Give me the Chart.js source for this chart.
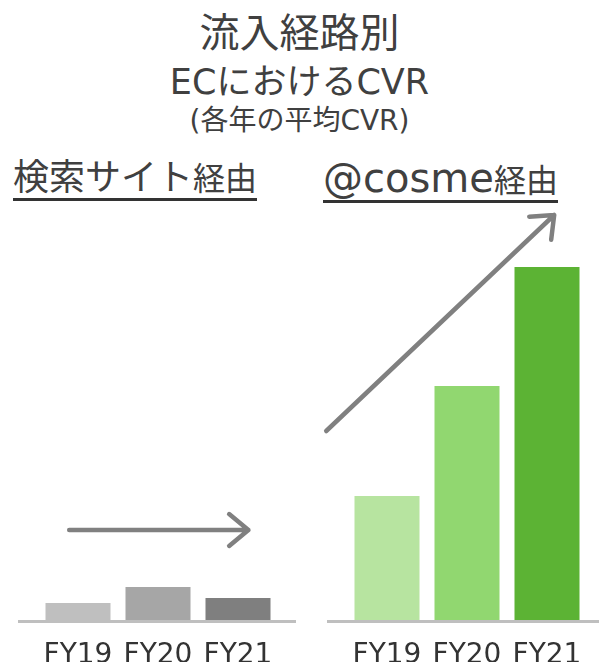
<!DOCTYPE html>
<html>
<head>
<meta charset="utf-8">
<script src="https://cdn.jsdelivr.net/npm/chart.js@4.4.0/dist/chart.umd.min.js"></script>
<style>
  body { margin: 0; width: 599px; height: 662px; position: relative; overflow: hidden; background: #fff;
         font-family: "DejaVu Sans", "Noto Sans CJK JP", sans-serif; color: #404040; }
  .t { position: absolute; left: 0; width: 599px; text-align: center; white-space: nowrap; }
  #t1 { top: 10px; font-size: 40px; line-height: 46px; }
  #t2 { top: 60px; font-size: 35px; line-height: 44px; }
  #t3 { top: 104px; font-size: 28px; line-height: 34px; }
  .sub { position: absolute; top: 159px; white-space: nowrap; font-size: 36px; line-height: 38px;
         border-bottom: 3px solid #333; }
  .sub small { font-size: 32px; }
  .sub .lat { font-size: 40px; }
  .box { position: absolute; top: 200px; height: 462px; }
</style>
</head>
<body>
<div class="t" id="t1">流入経路別</div>
<div class="t" id="t2">ECにおけるCVR</div>
<div class="t" id="t3">(各年の平均CVR)</div>
<div class="sub" style="left:13px">検索サイト<small>経由</small></div>
<div class="sub" style="left:323px"><span class="lat">@cosme</span><small>経由</small></div>

<div class="box" style="left:0;width:300px"><canvas id="searchChart"></canvas></div>
<div class="box" style="left:309px;width:290px"><canvas id="cosmeChart"></canvas></div>

<script>
// fiscal years on both panels
const years = ["FY19", "FY20", "FY21"];
// average CVR per year (estimated, relative units)
const searchCvr = [0.17, 0.33, 0.22];
const cosmeCvr = [1.24, 2.34, 3.53];
const searchColors = ["#bfbfbf", "#a6a6a6", "#7f7f7f"];
const cosmeColors = ["#b7e4a0", "#91d770", "#5cb334"];
const yMax = 4.1;

// trend arrows, given in scale units: [x0, y0, x1, y1]
const searchArrow = [-0.11, 0.9, 2.13, 0.9];
const cosmeArrow = [-0.76, 1.89, 2.09, 4.05];

// baseline + arrow drawn on top of the chart
const decorPlugin = {
  id: "decor",
  afterDatasetsDraw(chart, args, opts) {
    const ctx = chart.ctx;
    const area = chart.chartArea;
    const xs = chart.scales.x;
    const ys = chart.scales.y;

    ctx.save();
    ctx.strokeStyle = "#bfbfbf";
    ctx.lineWidth = 3;
    ctx.beginPath();
    ctx.moveTo(area.left - opts.extendLeft, area.bottom + 1.5);
    ctx.lineTo(area.right + opts.extendRight, area.bottom + 1.5);
    ctx.stroke();

    const a = opts.arrow;
    const x0 = xs.getPixelForValue(a[0]), y0 = ys.getPixelForValue(a[1]);
    const x1 = xs.getPixelForValue(a[2]), y1 = ys.getPixelForValue(a[3]);
    const ang = Math.atan2(y1 - y0, x1 - x0);
    const head = 25, spread = Math.PI * 0.22;
    ctx.strokeStyle = "#808080";
    ctx.lineWidth = 4.5;
    ctx.lineCap = "round";
    ctx.lineJoin = "round";
    ctx.beginPath();
    ctx.moveTo(x0, y0);
    ctx.lineTo(x1, y1);
    ctx.moveTo(x1 - head * Math.cos(ang - spread), y1 - head * Math.sin(ang - spread));
    ctx.lineTo(x1, y1);
    ctx.lineTo(x1 - head * Math.cos(ang + spread), y1 - head * Math.sin(ang + spread));
    ctx.stroke();
    ctx.restore();
  }
};

function makeChart(id, values, colors, arrow, padding, extendLeft, extendRight) {
  return new Chart(document.getElementById(id), {
    type: "bar",
    data: {
      labels: years,
      datasets: [{ data: values, backgroundColor: colors, borderWidth: 0,
                   categoryPercentage: 1, barPercentage: 0.8125 }]
    },
    options: {
      responsive: true,
      maintainAspectRatio: false,
      animation: false,
      layout: { padding: padding },
      plugins: {
        legend: { display: false },
        tooltip: { enabled: false },
        decor: { arrow: arrow, extendLeft: extendLeft, extendRight: extendRight }
      },
      scales: {
        x: {
          grid: { display: false, drawTicks: false },
          border: { display: false },
          ticks: { color: "#333", padding: 19, font: { family: "DejaVu Sans", size: 28 } },
          afterFit(scale) {
            // fixed axis height, and don't let label overflow shrink the plot
            scale.height = 42;
            scale.paddingLeft = 0;
            scale.paddingRight = 0;
          }
        },
        y: { display: false, min: 0, max: yMax }
      }
    },
    plugins: [decorPlugin]
  });
}

makeChart("searchChart", searchCvr, searchColors, searchArrow,
  { left: 38, right: 22, top: 10, bottom: 0 }, 20, 18);
makeChart("cosmeChart", cosmeCvr, cosmeColors, cosmeArrow,
  { left: 38, right: 12, top: 10, bottom: 0 }, 20, 12);
</script>
</body>
</html>
